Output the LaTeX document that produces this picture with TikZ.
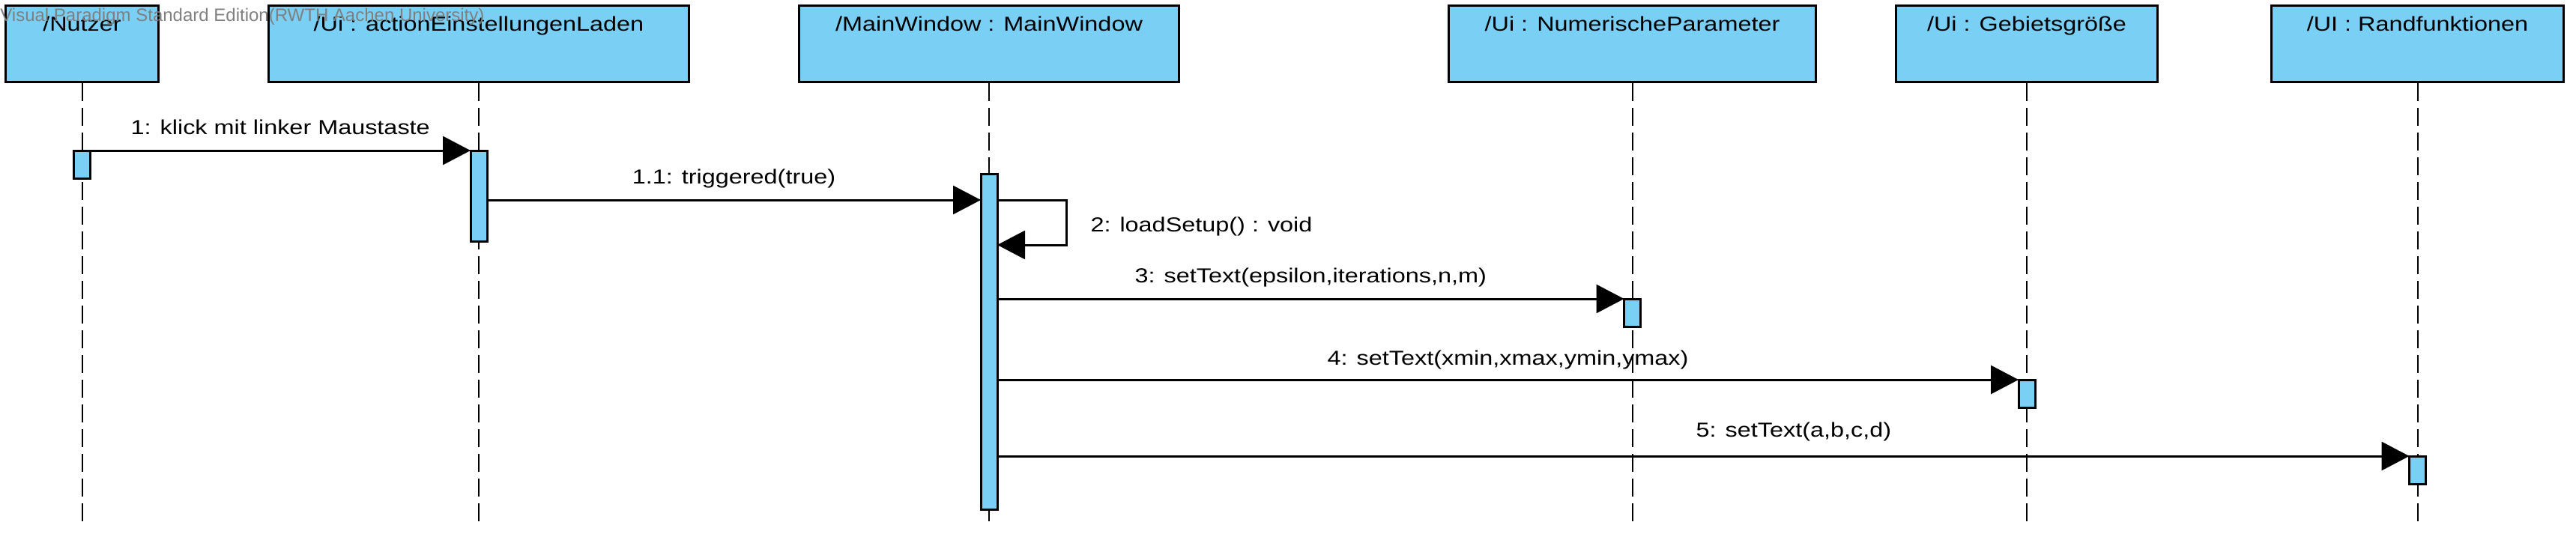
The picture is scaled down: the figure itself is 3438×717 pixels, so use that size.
\documentclass[tikz,border=0pt]{standalone}
\usepackage{fontspec}
\setmainfont{Liberation Sans}[FakeStretch=1.2]
\newfontfamily\wmfont{Liberation Sans}
\usepackage{tikz}
\usepackage{xcolor}
\usetikzlibrary{arrows.meta, positioning}
\definecolor{cLife}{RGB}{122,207,245}
\definecolor{cMark}{RGB}{128,128,128}
\tikzset{
	head/.style     ={rectangle, draw=black, line width=1.5pt, fill=cLife, minimum height=51pt, inner sep=0pt},
	headtext/.style ={label={[anchor=base, yshift=-18pt, inner sep=0pt]north:{#1}}},
	act/.style      ={rectangle, draw=black, line width=1.5pt, fill=cLife, minimum width=11pt, minimum height=18.5pt, inner sep=0pt, outer sep=0pt, anchor=north},
	% sequence diagram lines
	life/.style     ={line width=1pt, dash pattern=on 12pt off 4.5pt},
	msg/.style      ={-{Triangle[length=18.5pt, width=19pt]}, line width=1.5pt},
	lbl/.style      ={midway, anchor=base, inner sep=0pt},
}

\begin{document}
\begin{tikzpicture}[x=0.5pt, y=-0.5pt, font=\fontsize{13.5pt}{16pt}\selectfont, node distance=72pt]
	\useasboundingbox (0,0) rectangle (3438,717);
	\node[head, minimum width=102pt, headtext={/Nutzer}] (nu) at (109.5,58.5) {};
	\node[head, right=of nu, minimum width=280.5pt, headtext={/Ui : actionEinstellungenLaden}] (ae) {};
	\node[head, right=of ae, minimum width=253.5pt, headtext={/MainWindow : MainWindow}] (mw) {};
	\node[head, right=178.5pt of mw, minimum width=245pt, headtext={/Ui : NumerischeParameter}] (np) {};
	\node[head, right=52pt of np, minimum width=174.5pt, headtext={/Ui : Gebietsgröße}] (gg) {};
	\node[head, right=74.5pt of gg, minimum width=195pt, headtext={/UI : Randfunktionen}] (rf) {};
	\coordinate (ende) at (0,696);
	\draw[life] (nu.south) -- (nu.south |- ende); \draw[life] (ae.south) -- (ae.south |- ende); \draw[life] (mw.south) -- (mw.south |- ende);
	\draw[life] (np.south) -- (np.south |- ende); \draw[life] (gg.south) -- (gg.south |- ende); \draw[life] (rf.south) -- (rf.south |- ende);
	% activations
	\node[act, minimum height=18.75pt] (anu) at (nu.south |- 0,201) {};
	\node[act, minimum height=60.75pt] (aae) at (ae.south |- 0,201) {};
	\node[act, minimum height=224.25pt] (amw) at (mw.south |- 0,232) {};
	\node[act] (anp) at (np.south |- 0,399) {};
	\node[act] (agg) at (gg.south |- 0,507) {};
	\node[act] (arf) at (rf.south |- 0,609) {};
	\coordinate (r11) at (0,267); \coordinate (schleife) at (1423,327);
	\draw[msg] (anu.north east) -- node[lbl, yshift=11pt] {1: klick mit linker Maustaste} (aae.north west);
	\draw[msg] (aae.east |- r11) -- node[lbl, yshift=11pt] {1.1: triggered(true)} (amw.west |- r11);
	\draw[msg] (amw.east |- r11) -- (schleife |- r11) -- node[anchor=west, xshift=15.5pt, yshift=-3pt, inner sep=0pt] {2: loadSetup() : void} (schleife) -- (amw.east |- schleife);
	\draw[msg] (amw.east |- anp.north) -- node[lbl, yshift=11pt] {3: setText(epsilon,iterations,n,m)} (anp.north west);
	\draw[msg] (amw.east |- agg.north) -- node[lbl, yshift=10pt] {4: setText(xmin,xmax,ymin,ymax)} (agg.north west);
	\draw[msg] (amw.east |- arf.north) -- node[lbl, pos=0.564, yshift=13pt] {5: setText(a,b,c,d)} (arf.north west);
	\node[anchor=base west, inner sep=0pt, text=cMark, font=\wmfont\fontsize{12pt}{14pt}\selectfont] (wm) at (0,29) {Visual Paradigm Standard Edition(RWTH Aachen University)};
\end{tikzpicture}
\end{document}
